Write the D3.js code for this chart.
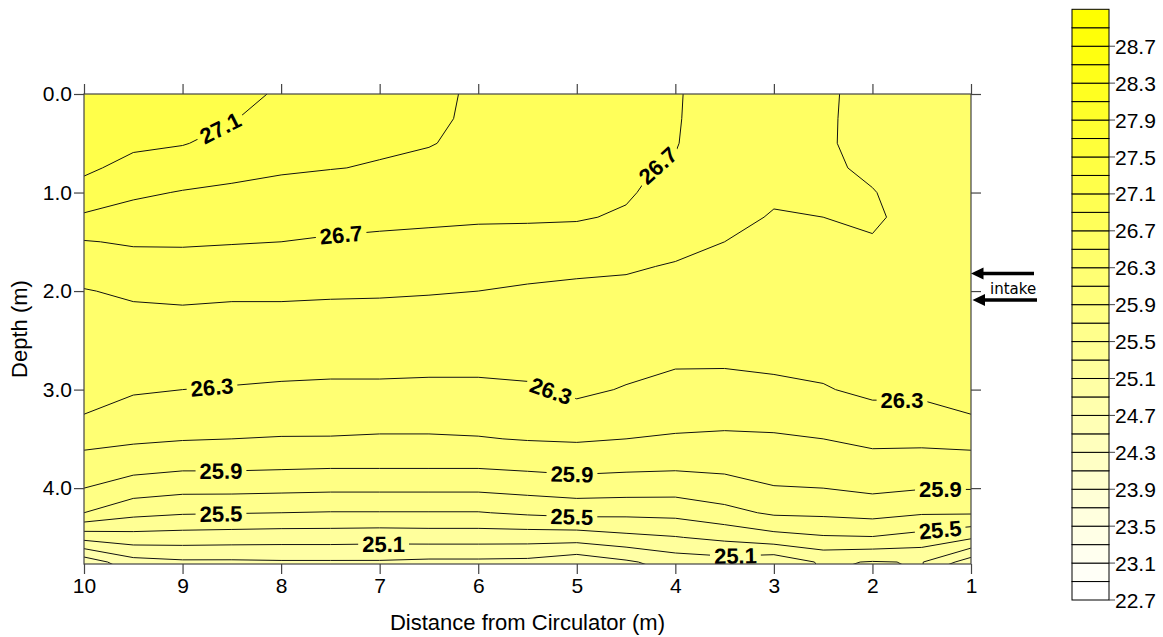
<!DOCTYPE html>
<html>
<head>
<meta charset="utf-8">
<script src="https://cdn.jsdelivr.net/npm/d3@7"></script>
<style>
  html, body { margin: 0; padding: 0; background: #ffffff; }
  svg { display: block; font-family: "Liberation Sans", Arial, sans-serif; }
</style>
</head>
<body>
<svg id="chart" width="1163" height="637"></svg>
<script>
// Grid columns: distance from the circulator (m)
const distances = [10, 9.5, 9, 8.5, 8, 7.5, 7, 6.5, 6, 5.5, 5, 4.5, 4, 3.5, 3, 2.5, 2, 1.5, 1];
// Grid rows: depth below the surface (m)
const depths = [0, 0.25, 0.5, 0.75, 1, 1.25, 1.5, 1.75, 2, 2.25, 2.5, 2.75, 3, 3.25, 3.5, 3.75, 4, 4.25, 4.5, 4.75];
// Water temperature (°C), one row per depth, one value per distance
const temperature = [
  [27.25, 27.22, 27.20, 27.15, 27.08, 27.00, 26.97, 26.96, 26.86, 26.82, 26.79, 26.76, 26.715, 26.62, 26.58, 26.54, 26.42, 26.42, 26.42],
  [27.21, 27.17, 27.15, 27.11, 27.03, 26.97, 26.95, 26.94, 26.86, 26.80, 26.77, 26.75, 26.715, 26.60, 26.56, 26.53, 26.43, 26.425, 26.425],
  [27.17, 27.13, 27.11, 27.04, 26.97, 26.94, 26.92, 26.91, 26.85, 26.78, 26.76, 26.73, 26.71, 26.58, 26.55, 26.52, 26.45, 26.43, 26.43],
  [27.13, 27.05, 27.00, 26.95, 26.92, 26.905, 26.89, 26.85, 26.81, 26.75, 26.74, 26.72, 26.685, 26.56, 26.53, 26.52, 26.48, 26.44, 26.435],
  [27.04, 26.93, 26.89, 26.87, 26.85, 26.83, 26.81, 26.79, 26.76, 26.73, 26.72, 26.72, 26.63, 26.54, 26.51, 26.51, 26.505, 26.45, 26.44],
  [26.87, 26.83, 26.80, 26.79, 26.77, 26.76, 26.74, 26.73, 26.72, 26.72, 26.715, 26.68, 26.59, 26.52, 26.495, 26.50, 26.52, 26.45, 26.44],
  [26.69, 26.72, 26.72, 26.71, 26.70, 26.68, 26.67, 26.66, 26.65, 26.64, 26.63, 26.59, 26.54, 26.50, 26.46, 26.47, 26.49, 26.445, 26.435],
  [26.59, 26.62, 26.63, 26.62, 26.61, 26.60, 26.59, 26.58, 26.57, 26.55, 26.53, 26.515, 26.49, 26.46, 26.43, 26.44, 26.46, 26.42, 26.42],
  [26.49, 26.53, 26.54, 26.53, 26.53, 26.52, 26.52, 26.51, 26.50, 26.48, 26.47, 26.47, 26.45, 26.43, 26.40, 26.41, 26.43, 26.40, 26.40],
  [26.46, 26.46, 26.47, 26.46, 26.46, 26.46, 26.45, 26.45, 26.44, 26.43, 26.44, 26.42, 26.40, 26.39, 26.37, 26.38, 26.40, 26.38, 26.38],
  [26.42, 26.42, 26.41, 26.41, 26.40, 26.40, 26.39, 26.39, 26.39, 26.39, 26.40, 26.38, 26.36, 26.35, 26.34, 26.35, 26.37, 26.36, 26.36],
  [26.38, 26.37, 26.36, 26.35, 26.34, 26.34, 26.34, 26.33, 26.33, 26.34, 26.36, 26.34, 26.31, 26.31, 26.325, 26.33, 26.35, 26.345, 26.345],
  [26.34, 26.32, 26.30, 26.29, 26.28, 26.27, 26.27, 26.27, 26.27, 26.28, 26.33, 26.29, 26.25, 26.24, 26.26, 26.29, 26.33, 26.33, 26.33],
  [26.30, 26.23, 26.21, 26.20, 26.19, 26.18, 26.18, 26.18, 26.18, 26.20, 26.25, 26.20, 26.17, 26.16, 26.16, 26.19, 26.26, 26.26, 26.30],
  [26.16, 26.13, 26.11, 26.10, 26.09, 26.09, 26.08, 26.08, 26.09, 26.11, 26.12, 26.10, 26.08, 26.07, 26.08, 26.10, 26.14, 26.14, 26.16],
  [26.03, 25.99, 25.96, 25.96, 25.95, 25.94, 25.94, 25.94, 25.94, 25.96, 25.98, 25.96, 25.95, 25.96, 25.99, 26.00, 26.04, 26.03, 26.03],
  [25.90, 25.80, 25.76, 25.76, 25.75, 25.74, 25.74, 25.74, 25.74, 25.77, 25.80, 25.79, 25.78, 25.82, 25.89, 25.90, 25.94, 25.91, 25.91],
  [25.70, 25.56, 25.52, 25.51, 25.50, 25.49, 25.49, 25.49, 25.49, 25.53, 25.56, 25.55, 25.56, 25.64, 25.73, 25.74, 25.77, 25.72, 25.72],
  [25.17, 25.22, 25.21, 25.20, 25.19, 25.19, 25.18, 25.19, 25.19, 25.19, 25.19, 25.25, 25.29, 25.35, 25.43, 25.48, 25.49, 25.43, 25.33],
  [24.58, 24.83, 24.87, 24.87, 24.88, 24.88, 24.88, 24.86, 24.86, 24.85, 24.77, 24.87, 24.99, 25.02, 24.96, 25.13, 25.09, 25.11, 24.80]
];
// Contour levels (every 0.2 °C) and the labelled colour-scale values
const contourLevels = [22.7, 22.9, 23.1, 23.3, 23.5, 23.7, 23.9, 24.1, 24.3, 24.5, 24.7, 24.9, 25.1, 25.3, 25.5, 25.7,
                       25.9, 26.1, 26.3, 26.5, 26.7, 26.9, 27.1, 27.3, 27.5, 27.7, 27.9, 28.1, 28.3, 28.5, 28.7, 28.9];
const scaleTop = 29.1;
const legendLabels = [22.7, 23.1, 23.5, 23.9, 24.3, 24.7, 25.1, 25.5, 25.9, 26.3, 26.7, 27.1, 27.5, 27.9, 28.3, 28.7];
const xTicks = [10, 9, 8, 7, 6, 5, 4, 3, 2, 1];
const yTicks = [0, 1, 2, 3, 4];

// Where the inline contour labels sit (distance m, depth m)
const labelPlacement = [
  { level: 27.1, dist: 8.59, depth: 0.40 },
  { level: 26.7, dist: 7.39, depth: 1.44 },
  { level: 26.7, dist: 4.16, depth: 0.75 },
  { level: 26.3, dist: 8.70, depth: 2.99 },
  { level: 26.3, dist: 5.28, depth: 3.07 },
  { level: 26.3, dist: 1.70, depth: 3.16 },
  { level: 25.9, dist: 8.61, depth: 3.84 },
  { level: 25.9, dist: 5.05, depth: 3.88 },
  { level: 25.9, dist: 1.31, depth: 4.04 },
  { level: 25.5, dist: 8.61, depth: 4.26 },
  { level: 25.5, dist: 5.05, depth: 4.30 },
  { level: 25.5, dist: 1.31, depth: 4.45 },
  { level: 25.1, dist: 6.96, depth: 4.57 },
  { level: 25.1, dist: 3.39, depth: 4.69 }
];

const svg = d3.select("#chart");
const plot = { left: 84, right: 971, top: 94, bottom: 564 };
const x = d3.scaleLinear().domain([10, 1]).range([plot.left, plot.right]);
const y = d3.scaleLinear().domain([0, 4.77]).range([plot.top, plot.bottom]);
const textSize = 21;
const titleSize = 22;

const bandColor = level => {
  const k = Math.round((level - contourLevels[0]) / 0.2);
  return d3.interpolateRgb("#ffffff", "#ffff00")(k / (contourLevels.length - 1));
};

// Filled contour bands
const nx = distances.length, ny = depths.length;
const dStep = distances[1] - distances[0];
const zStep = depths[1] - depths[0];
const bands = d3.contours().size([nx, ny]).thresholds(contourLevels)(temperature.flat());

const gridToPx = (gx, gy) => [
  x(distances[0] + (gx - 0.5) * dStep),
  y(depths[0] + (gy - 0.5) * zStep)
];
const path = d3.geoPath(d3.geoTransform({
  point(gx, gy) { const p = gridToPx(gx, gy); this.stream.point(p[0], p[1]); }
}));

const defs = svg.append("defs");
defs.append("clipPath").attr("id", "plotClip")
  .append("rect")
  .attr("x", plot.left).attr("y", plot.top)
  .attr("width", plot.right - plot.left).attr("height", plot.bottom - plot.top);

const fillG = svg.append("g").attr("clip-path", "url(#plotClip)");
fillG.append("rect")
  .attr("x", plot.left).attr("y", plot.top)
  .attr("width", plot.right - plot.left).attr("height", plot.bottom - plot.top)
  .attr("fill", bandColor(contourLevels[0]));
fillG.selectAll("path.band").data(bands).join("path")
  .attr("class", "band")
  .attr("d", path)
  .attr("fill", d => bandColor(d.value))
  .attr("stroke", d => bandColor(d.value))
  .attr("stroke-width", 0.4);

// Contour lines (gapped under labels through a mask)
const mask = defs.append("mask").attr("id", "labelGaps")
  .attr("maskUnits", "userSpaceOnUse")
  .attr("x", 0).attr("y", 0).attr("width", 1163).attr("height", 637);
mask.append("rect").attr("x", 0).attr("y", 0).attr("width", 1163).attr("height", 637).attr("fill", "#fff");

const clipOuter = svg.append("g").attr("clip-path", "url(#plotClip)");
const lineG = clipOuter.append("g").attr("mask", "url(#labelGaps)");
lineG.selectAll("path.iso").data(bands).join("path")
  .attr("class", "iso")
  .attr("d", path)
  .attr("fill", "none")
  .attr("stroke", "#111")
  .attr("stroke-width", 1)
  .attr("stroke-linejoin", "round");

// Inline labels
const labelG = svg.append("g").attr("clip-path", "url(#plotClip)");
labelPlacement.forEach(lp => {
  const band = bands.find(b => Math.abs(b.value - lp.level) < 1e-9);
  if (!band) return;
  const tx = x(lp.dist), ty = y(lp.depth);
  let best = null;
  band.coordinates.forEach(poly => poly.forEach(ring => {
    const pts = ring.map(p => gridToPx(p[0], p[1]));
    for (let i = 0; i < pts.length - 1; i++) {
      const a = pts[i], b = pts[i + 1];
      const vx = b[0] - a[0], vy = b[1] - a[1];
      const len2 = vx * vx + vy * vy || 1e-9;
      let t = ((tx - a[0]) * vx + (ty - a[1]) * vy) / len2;
      t = Math.max(0, Math.min(1, t));
      const px = a[0] + t * vx, py = a[1] + t * vy;
      const dd = (px - tx) ** 2 + (py - ty) ** 2;
      if (!best || dd < best.dd) best = { dd, px, py, pts, i };
    }
  }));
  if (!best) return;
  // direction of the line around the label
  const reach = 16;
  const walk = (start, dir) => {
    let idx = start, acc = 0, cur = [best.px, best.py];
    const pts = best.pts, n = pts.length;
    let guard = 0;
    while (acc < reach && guard++ < n) {
      const nextIdx = dir > 0 ? idx + 1 : idx;
      const nxt = pts[((nextIdx % n) + n) % n];
      const seg = Math.hypot(nxt[0] - cur[0], nxt[1] - cur[1]);
      if (acc + seg >= reach) {
        const f = (reach - acc) / (seg || 1);
        return [cur[0] + f * (nxt[0] - cur[0]), cur[1] + f * (nxt[1] - cur[1])];
      }
      acc += seg; cur = nxt; idx += dir;
    }
    return cur;
  };
  const p0 = walk(best.i, -1), p1 = walk(best.i, 1);
  let ang = Math.atan2(p1[1] - p0[1], p1[0] - p0[0]) * 180 / Math.PI;
  if (ang > 90) ang -= 180;
  if (ang <= -90) ang += 180;

  const txt = labelG.append("text")
    .attr("transform", `translate(${best.px},${best.py}) rotate(${ang})`)
    .attr("text-anchor", "middle")
    .attr("dy", "0.36em")
    .attr("font-size", 22)
    .attr("font-weight", "bold")
    .attr("fill", "#000")
    .text(d3.format(".1f")(lp.level));
  const w = txt.node().getComputedTextLength();
  mask.append("rect")
    .attr("x", -w / 2 - 4).attr("y", -9).attr("width", w + 8).attr("height", 18)
    .attr("transform", `translate(${best.px},${best.py}) rotate(${ang})`)
    .attr("fill", "#000");
});

// Axes and frame
const axisColor = "#444";
const styleAxis = g => {
  g.select(".domain").remove();
  g.selectAll(".tick line").attr("stroke", axisColor).attr("stroke-width", 1.2);
  g.selectAll(".tick text").attr("font-size", textSize).attr("fill", "#000")
    .attr("font-family", '"Liberation Sans", Arial, sans-serif');
};
svg.append("g").attr("transform", `translate(0,${plot.bottom})`)
  .call(d3.axisBottom(x).tickValues(xTicks).tickSize(10).tickPadding(4).tickFormat(d3.format("d")))
  .call(styleAxis);
svg.append("g").attr("transform", `translate(0,${plot.top})`)
  .call(d3.axisTop(x).tickValues(xTicks).tickSize(10).tickFormat(() => ""))
  .call(styleAxis);
svg.append("g").attr("transform", `translate(${plot.left},0)`)
  .call(d3.axisLeft(y).tickValues(yTicks).tickSize(10).tickPadding(2).tickFormat(d3.format(".1f")))
  .call(styleAxis);
svg.append("g").attr("transform", `translate(${plot.right},0)`)
  .call(d3.axisRight(y).tickValues(yTicks).tickSize(10).tickFormat(() => ""))
  .call(styleAxis);
svg.append("rect")
  .attr("x", plot.left).attr("y", plot.top)
  .attr("width", plot.right - plot.left).attr("height", plot.bottom - plot.top)
  .attr("fill", "none").attr("stroke", axisColor).attr("stroke-width", 1.2);

svg.append("text")
  .attr("x", (plot.left + plot.right) / 2).attr("y", 630)
  .attr("text-anchor", "middle").attr("font-size", titleSize)
  .text("Distance from Circulator (m)");
svg.append("text")
  .attr("transform", `translate(27,${(plot.top + plot.bottom) / 2}) rotate(-90)`)
  .attr("text-anchor", "middle").attr("font-size", titleSize)
  .text("Depth (m)");

// Intake arrows
const arrow = (tipX, yy, tailX) => {
  svg.append("line").attr("x1", tipX + 10).attr("x2", tailX).attr("y1", yy).attr("y2", yy)
    .attr("stroke", "#000").attr("stroke-width", 3.4);
  svg.append("path")
    .attr("d", `M${tipX},${yy} L${tipX + 12.5},${yy - 6} L${tipX + 12.5},${yy + 6} Z`)
    .attr("fill", "#000");
};
arrow(971, 273.5, 1034);
arrow(972.5, 300, 1037);
svg.append("text")
  .attr("x", 990).attr("y", 293.5)
  .attr("font-family", '"DejaVu Sans", Verdana, sans-serif')
  .attr("font-size", 15)
  .text("intake");

// Colour scale
const legY = d3.scaleLinear().domain([contourLevels[0], scaleTop]).range([600, 9.3]);
const legX = 1072, legW = 37;
const legend = svg.append("g");
legend.selectAll("rect").data(contourLevels).join("rect")
  .attr("x", legX)
  .attr("y", d => legY(d + 0.2))
  .attr("width", legW)
  .attr("height", d => legY(d) - legY(d + 0.2))
  .attr("fill", d => bandColor(d))
  .attr("stroke", "#000").attr("stroke-width", 1);
legend.selectAll("line.tk").data(legendLabels).join("line")
  .attr("class", "tk")
  .attr("x1", legX + legW).attr("x2", legX + legW + 6)
  .attr("y1", d => legY(d)).attr("y2", d => legY(d))
  .attr("stroke", "#444").attr("stroke-width", 1);
legend.selectAll("text").data(legendLabels).join("text")
  .attr("x", legX + legW + 6)
  .attr("y", d => legY(d))
  .attr("dy", "0.36em")
  .attr("font-size", textSize)
  .text(d => d3.format(".1f")(d));
</script>
</body>
</html>
